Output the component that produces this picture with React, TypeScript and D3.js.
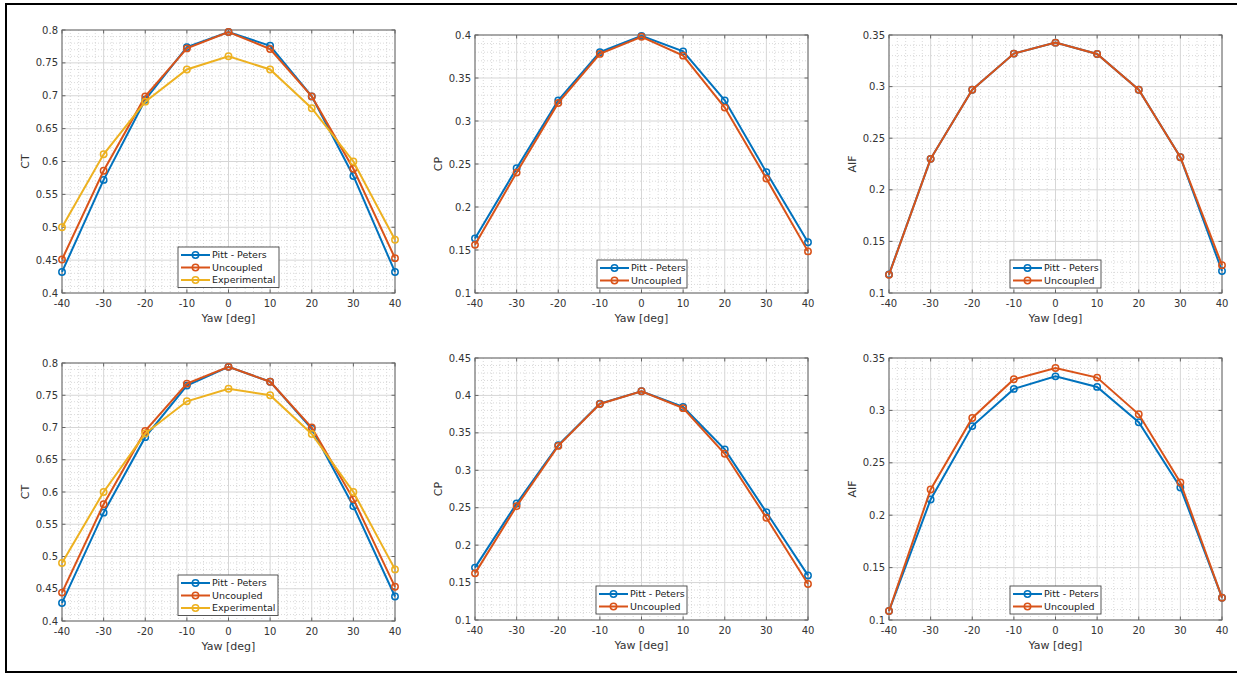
import React from "react";
import * as d3 from "d3";

const yaw = [-40, -30, -20, -10, 0, 10, 20, 30, 40];
const xTicks = [-40, -30, -20, -10, 0, 10, 20, 30, 40];

// Top row
const ctTopPitt = [0.432, 0.572, 0.694, 0.774, 0.797, 0.776, 0.699, 0.578, 0.432];
const ctTopUnc = [0.451, 0.586, 0.699, 0.772, 0.797, 0.771, 0.699, 0.589, 0.453];
const ctTopExp = [0.5, 0.611, 0.691, 0.74, 0.76, 0.74, 0.681, 0.6, 0.481];
const cpTopPitt = [0.1635, 0.245, 0.324, 0.38, 0.399, 0.381, 0.324, 0.2405, 0.159];
const cpTopUnc = [0.156, 0.24, 0.321, 0.378, 0.398, 0.376, 0.3156, 0.233, 0.1484];
const aifTopPitt = [0.118, 0.23, 0.297, 0.332, 0.3426, 0.3316, 0.297, 0.2316, 0.1213];
const aifTopUnc = [0.1177, 0.23, 0.297, 0.332, 0.3426, 0.3316, 0.297, 0.2316, 0.127];

// Bottom row
const ctBotPitt = [0.428, 0.568, 0.685, 0.765, 0.794, 0.771, 0.698, 0.578, 0.438];
const ctBotUnc = [0.444, 0.581, 0.6947, 0.768, 0.794, 0.771, 0.7, 0.589, 0.453];
const ctBotExp = [0.49, 0.6, 0.6906, 0.7406, 0.76, 0.75, 0.69, 0.6, 0.48];
const cpBotPitt = [0.17, 0.2557, 0.3335, 0.389, 0.4055, 0.3846, 0.328, 0.244, 0.1596];
const cpBotUnc = [0.1623, 0.252, 0.3326, 0.3886, 0.4055, 0.383, 0.322, 0.2365, 0.148];
const aifBotPitt = [0.1086, 0.215, 0.285, 0.3205, 0.3325, 0.3224, 0.2887, 0.2264, 0.1213];
const aifBotUnc = [0.1086, 0.2245, 0.2928, 0.3297, 0.3405, 0.3313, 0.2963, 0.2312, 0.1213];

const ctTicks = [0.4, 0.45, 0.5, 0.55, 0.6, 0.65, 0.7, 0.75, 0.8];
const cpTopTicks = [0.1, 0.15, 0.2, 0.25, 0.3, 0.35, 0.4];
const cpBotTicks = [0.1, 0.15, 0.2, 0.25, 0.3, 0.35, 0.4, 0.45];
const aifTicks = [0.1, 0.15, 0.2, 0.25, 0.3, 0.35];

const BLUE = "#0072BD";
const ORANGE = "#D95319";
const YELLOW = "#EDB120";

type Series = { name: string; color: string; values: number[] };
type Panel = {
  x0: number; x1: number; y0: number; y1: number;
  yDomain: [number, number]; yTicks: number[]; ylabel: string;
  series: Series[];
  legend: { x: number; y: number; w: number };
};

const panels: Panel[] = [
  {
    x0: 62, x1: 395, y0: 30, y1: 293, yDomain: [0.4, 0.8], yTicks: ctTicks, ylabel: "CT",
    series: [
      { name: "Pitt - Peters", color: BLUE, values: ctTopPitt },
      { name: "Uncoupled", color: ORANGE, values: ctTopUnc },
      { name: "Experimental", color: YELLOW, values: ctTopExp },
    ],
    legend: { x: 178, y: 247, w: 101 },
  },
  {
    x0: 475, x1: 808, y0: 35, y1: 293, yDomain: [0.1, 0.4], yTicks: cpTopTicks, ylabel: "CP",
    series: [
      { name: "Pitt - Peters", color: BLUE, values: cpTopPitt },
      { name: "Uncoupled", color: ORANGE, values: cpTopUnc },
    ],
    legend: { x: 597, y: 260, w: 90 },
  },
  {
    x0: 889, x1: 1222, y0: 35, y1: 293, yDomain: [0.1, 0.35], yTicks: aifTicks, ylabel: "AIF",
    series: [
      { name: "Pitt - Peters", color: BLUE, values: aifTopPitt },
      { name: "Uncoupled", color: ORANGE, values: aifTopUnc },
    ],
    legend: { x: 1010, y: 260, w: 91 },
  },
  {
    x0: 62, x1: 395, y0: 363, y1: 621, yDomain: [0.4, 0.8], yTicks: ctTicks, ylabel: "CT",
    series: [
      { name: "Pitt - Peters", color: BLUE, values: ctBotPitt },
      { name: "Uncoupled", color: ORANGE, values: ctBotUnc },
      { name: "Experimental", color: YELLOW, values: ctBotExp },
    ],
    legend: { x: 178, y: 575, w: 100 },
  },
  {
    x0: 475, x1: 808, y0: 358, y1: 620, yDomain: [0.1, 0.45], yTicks: cpBotTicks, ylabel: "CP",
    series: [
      { name: "Pitt - Peters", color: BLUE, values: cpBotPitt },
      { name: "Uncoupled", color: ORANGE, values: cpBotUnc },
    ],
    legend: { x: 596, y: 586, w: 91 },
  },
  {
    x0: 889, x1: 1222, y0: 358, y1: 620, yDomain: [0.1, 0.35], yTicks: aifTicks, ylabel: "AIF",
    series: [
      { name: "Pitt - Peters", color: BLUE, values: aifBotPitt },
      { name: "Uncoupled", color: ORANGE, values: aifBotUnc },
    ],
    legend: { x: 1010, y: 586, w: 91 },
  },
];

const FONT = "'DejaVu Sans', sans-serif";
const TEXT = "#333";
const AXIS = "#666";

function fmt(v: number) {
  return String(+v.toFixed(2));
}

function PanelView({ p }: { p: Panel }) {
  const x = d3.scaleLinear().domain([-40, 40]).range([p.x0, p.x1]);
  const y = d3.scaleLinear().domain(p.yDomain).range([p.y1, p.y0]);
  const step = p.yTicks[1] - p.yTicks[0];
  const minorY: number[] = [];
  for (let i = 0; i < p.yTicks.length - 1; i++) {
    for (let k = 1; k < 5; k++) minorY.push(p.yTicks[i] + (step * k) / 5);
  }
  const minorX: number[] = [];
  for (let i = 0; i < xTicks.length - 1; i++) {
    for (let k = 1; k < 5; k++) minorX.push(xTicks[i] + (10 * k) / 5);
  }
  const line = d3
    .line<number>()
    .x((_, i) => x(yaw[i]))
    .y((v) => y(v));
  const rowH = 12.5;
  const lg = p.legend;
  const lgH = p.series.length * rowH + 3;
  return (
    <g>
      <rect x={p.x0} y={p.y0} width={p.x1 - p.x0} height={p.y1 - p.y0} fill="#fff" />
      {minorX.map((t) => (
        <line key={"mx" + t} x1={x(t)} x2={x(t)} y1={p.y0} y2={p.y1} stroke="#cfcfcf" strokeWidth={0.8} strokeDasharray="1,2" />
      ))}
      {minorY.map((t, i) => (
        <line key={"my" + i} x1={p.x0} x2={p.x1} y1={y(t)} y2={y(t)} stroke="#cfcfcf" strokeWidth={0.8} strokeDasharray="1,2" />
      ))}
      {xTicks.map((t) => (
        <line key={"gx" + t} x1={x(t)} x2={x(t)} y1={p.y0} y2={p.y1} stroke="#d6d6d6" strokeWidth={1} />
      ))}
      {p.yTicks.map((t) => (
        <line key={"gy" + t} x1={p.x0} x2={p.x1} y1={y(t)} y2={y(t)} stroke="#d6d6d6" strokeWidth={1} />
      ))}
      {xTicks.map((t) => (
        <g key={"tx" + t}>
          <line x1={x(t)} x2={x(t)} y1={p.y1} y2={p.y1 - 3.5} stroke={AXIS} />
          <line x1={x(t)} x2={x(t)} y1={p.y0} y2={p.y0 + 3.5} stroke={AXIS} />
          <text x={x(t)} y={p.y1 + 14} fontSize={10} fontFamily={FONT} fill={TEXT} textAnchor="middle">
            {t}
          </text>
        </g>
      ))}
      {p.yTicks.map((t) => (
        <g key={"ty" + t}>
          <line x1={p.x0} x2={p.x0 + 3.5} y1={y(t)} y2={y(t)} stroke={AXIS} />
          <line x1={p.x1} x2={p.x1 - 3.5} y1={y(t)} y2={y(t)} stroke={AXIS} />
          <text x={p.x0 - 4} y={y(t) + 3.6} fontSize={10} fontFamily={FONT} fill={TEXT} textAnchor="end">
            {fmt(t)}
          </text>
        </g>
      ))}
      <rect x={p.x0} y={p.y0} width={p.x1 - p.x0} height={p.y1 - p.y0} fill="none" stroke={AXIS} strokeWidth={1} />
      <text x={(p.x0 + p.x1) / 2} y={p.y1 + 29} fontSize={11} fontFamily={FONT} fill={TEXT} textAnchor="middle">
        Yaw [deg]
      </text>
      <text
        transform={`translate(${p.x0 - 33},${(p.y0 + p.y1) / 2}) rotate(-90)`}
        fontSize={11}
        fontFamily={FONT}
        fill={TEXT}
        textAnchor="middle"
      >
        {p.ylabel}
      </text>
      {p.series.map((s) => (
        <g key={s.name}>
          <path d={line(s.values) || ""} fill="none" stroke={s.color} strokeWidth={2} />
          {s.values.map((v, i) => (
            <circle key={i} cx={x(yaw[i])} cy={y(v)} r={3.2} fill="none" stroke={s.color} strokeWidth={1.5} />
          ))}
        </g>
      ))}
      <g>
        <rect x={lg.x} y={lg.y} width={lg.w} height={lgH} fill="#fff" stroke="#444" strokeWidth={0.9} />
        {p.series.map((s, i) => {
          const cy = lg.y + 8 + i * rowH;
          return (
            <g key={"lg" + s.name}>
              <line x1={lg.x + 3} x2={lg.x + 32} y1={cy} y2={cy} stroke={s.color} strokeWidth={2} />
              <circle cx={lg.x + 17.5} cy={cy} r={3.2} fill="none" stroke={s.color} strokeWidth={1.5} />
              <text x={lg.x + 34} y={cy + 3.4} fontSize={9.5} fontFamily={FONT} fill="#222">
                {s.name}
              </text>
            </g>
          );
        })}
      </g>
    </g>
  );
}

export default function App() {
  return (
    <svg
      width={1237}
      height={675}
      style={{ position: "absolute", left: 0, top: 0, background: "#fff" }}
    >
      <rect x={0} y={0} width={1237} height={675} fill="#fff" />
      {panels.map((p, i) => (
        <PanelView key={i} p={p} />
      ))}
      <path d="M1240,4 H6 V672 H1240" fill="none" stroke="#000" strokeWidth={2} />
    </svg>
  );
}
